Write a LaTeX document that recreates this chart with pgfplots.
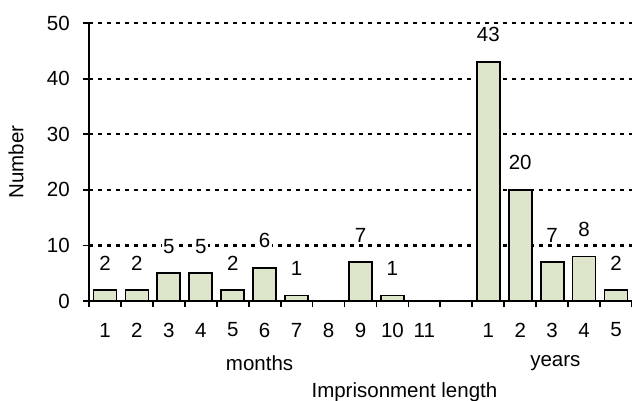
\documentclass[border=0pt]{standalone}
\usepackage{pgfplots}
\pgfplotsset{compat=1.18}
\usepackage{fontspec}
\setmainfont{Liberation Sans}
\definecolor{barfill}{RGB}{221,230,202}
\begin{document}
\fontsize{20.5bp}{24bp}\selectfont
\begin{tikzpicture}
\useasboundingbox (0,0) rectangle (632bp,401bp);
\begin{axis}[
  at={(89bp,100bp)}, anchor=south west,
  scale only axis, width=543bp, height=278bp,
  xmin=-0.5, xmax=16.5, ymin=0, ymax=50,
  axis x line*=bottom, axis y line*=left,
  axis line style={line width=2bp, -},
  ytick={0,10,...,50},
  xtick={0,...,10,12,13,14,15,16},
  xticklabels={1,2,3,4,5,6,7,8,9,10,11,1,2,3,4,5},
  minor xtick={-0.5,0.5,...,16.5},
  major x tick style={draw=none},
  minor x tick style={black, line width=1.8bp},
  y tick style={black, line width=1.8bp},
  tick align=outside,
  major tick length=6bp, minor tick length=6bp,
  ymajorgrids,
  major grid style={black, line width=2.2bp, dash pattern=on 4bp off 5bp},
  /pgf/number format/assume math mode=true,
  xticklabel style={anchor=center, yshift=-23bp},
  yticklabel style={anchor=east, inner sep=0pt, xshift=-13bp},
  clip=false,
  nodes near coords,
  nodes near coords style={anchor=center, yshift=27bp, fill=white, inner sep=1.5bp, font=\fontsize{20.5bp}{24bp}\selectfont},
]
\addplot[ybar, bar width=0.72, fill=barfill, draw=black, line width=1.8bp]
  coordinates {(0,2) (1,2) (2,5) (3,5) (4,2) (5,6) (6,1) (8,7) (9,1)
               (12,43) (13,20) (14,7) (15,8) (16,2)};
\node at (axis cs:4.84,0) [yshift=-62bp] {months};
\node at (axis cs:14.1,0) [yshift=-62bp] {years};
\node at (axis cs:9.375,0) [yshift=-91bp] {Imprisonment length};
\end{axis}
\node[rotate=90] at (16bp,239bp) {Number};
\end{tikzpicture}
\end{document}
